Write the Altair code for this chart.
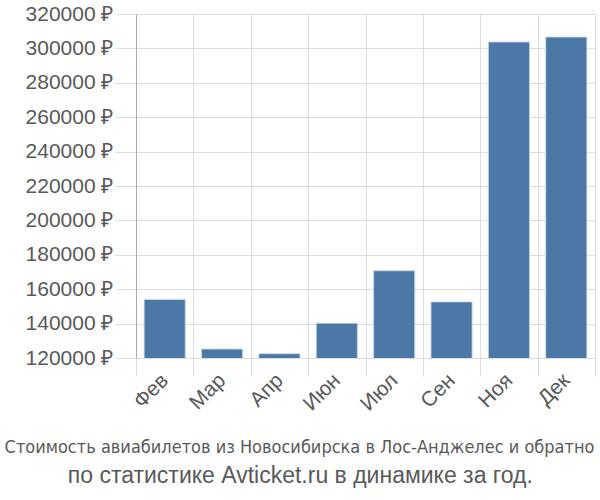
import altair as alt
import pandas as pd

months = ["Фев", "Мар", "Апр", "Июн", "Июл", "Сен", "Ноя", "Дек"]
prices = [154000, 125200, 122500, 140200, 170700, 152600, 303700, 306600]
y_ticks = [120000, 140000, 160000, 180000, 200000, 220000, 240000, 260000, 280000, 300000, 320000]
title_lines = ["Стоимость авиабилетов из Новосибирска в Лос-Анджелес и обратно",
               "по статистике Avticket.ru в динамике за год."]

df = pd.DataFrame({"month": months, "price": prices})

FONT = "Arial"
TXT = "#595959"

bars = alt.Chart(df).mark_bar(
    color="#4c78a8",
    width=alt.RelativeBandSize(0.716),
    stroke="#c9d6e4",
    strokeWidth=0.8,
    clip=True,
).encode(
    x=alt.X("month:N", sort=months, title=None,
            scale=alt.Scale(paddingInner=0, paddingOuter=0),
            axis=alt.Axis(labelAngle=-45, labelAlign="right", labelBaseline="middle",
                          labelFontSize=21, labelFont=FONT, labelColor=TXT,
                          tickBand="extent", tickSize=18, tickColor="#dddddd",
                          grid=True, gridColor="#dddddd", domain=False,
                          labelPadding=1)),
    y=alt.Y("price:Q", title=None,
            scale=alt.Scale(domain=[120000, 320000], zero=False, nice=False),
            axis=alt.Axis(values=y_ticks, labelExpr="datum.value + ' ₽'",
                          labelFontSize=21, labelFont=FONT, labelColor=TXT,
                          tickSize=21, tickColor="#dddddd", gridColor="#dddddd",
                          domainColor="#aaaaaa", labelPadding=2)),
)

t1 = alt.Chart(pd.DataFrame({"t": [title_lines[0]]})).mark_text(
    font="DejaVu Sans Condensed", fontSize=18, color=TXT, align="center", baseline="alphabetic"
).encode(text="t:N", x=alt.value(163.5), y=alt.value(439))

t2 = alt.Chart(pd.DataFrame({"t": [title_lines[1]]})).mark_text(
    font=FONT, fontSize=23, color=TXT, align="center", baseline="alphabetic"
).encode(text="t:N", x=alt.value(164.3), y=alt.value(469))

chart = alt.layer(bars, t1, t2).properties(
    width=459, height=344,
    autosize=alt.AutoSizeParams(type="none"),
    padding={"left": 136, "top": 14, "right": 5, "bottom": 142},
).configure_view(stroke=None)

chart.save("out.html", embed_options={"renderer": "svg", "actions": False})
